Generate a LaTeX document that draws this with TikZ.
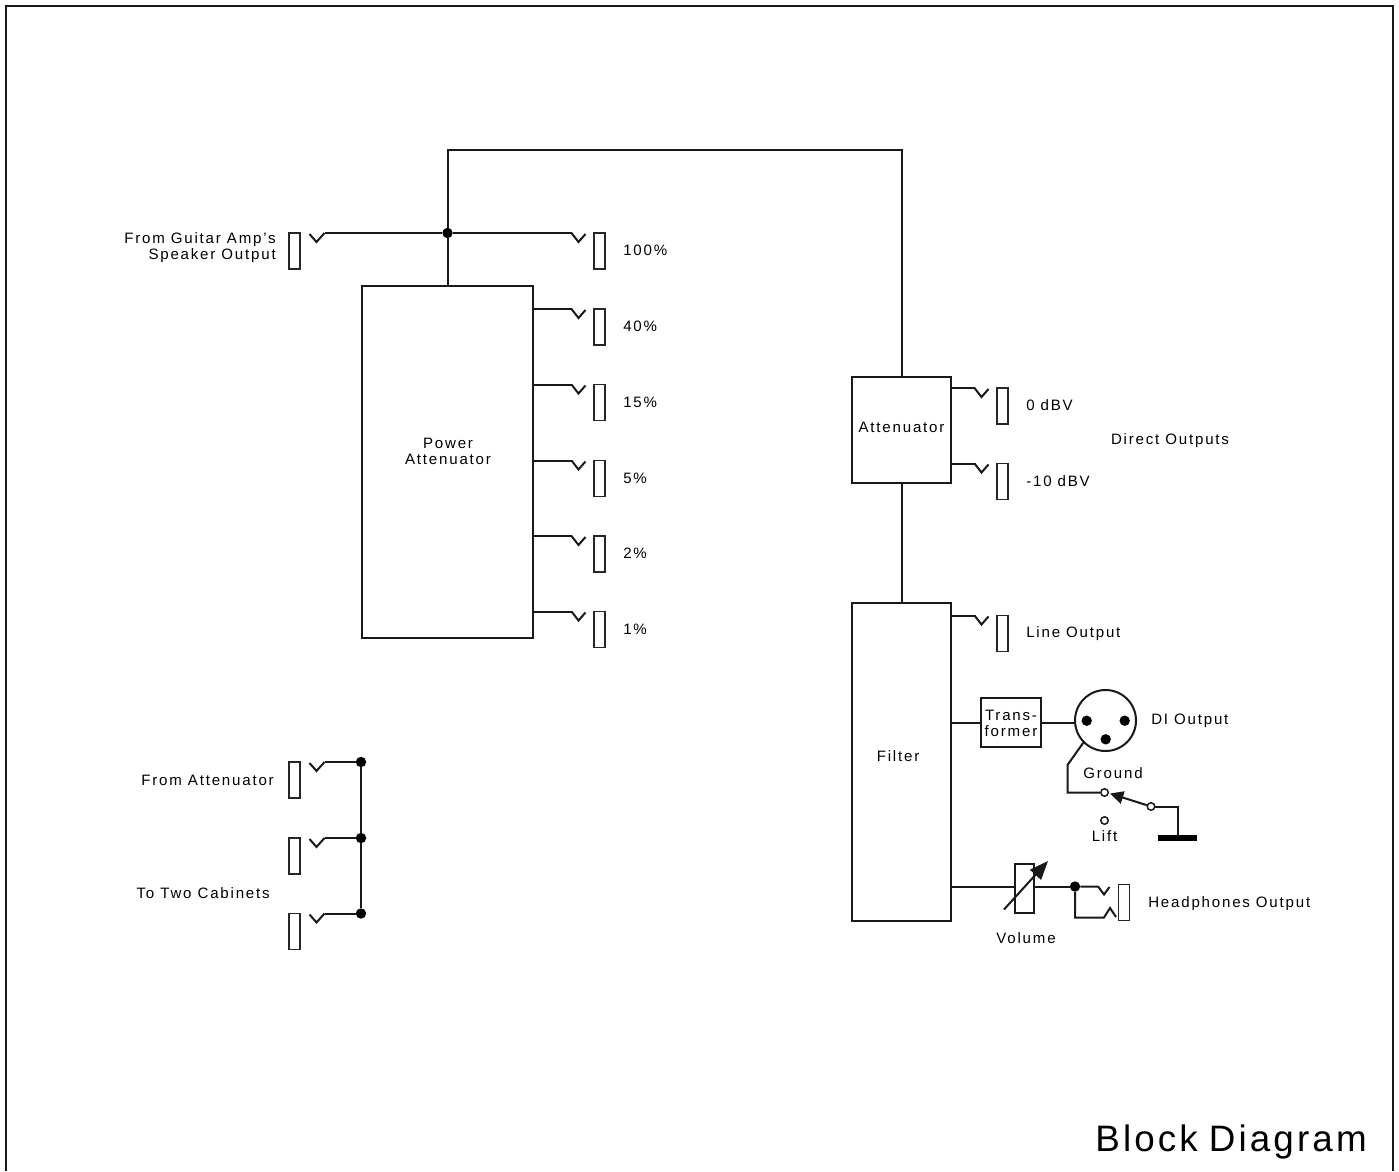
\documentclass[tikz,border=0pt]{standalone}
\usepackage{fontspec}
\setmainfont{Liberation Sans}[LetterSpace=12]
\newfontfamily\titlefont{Liberation Sans}[LetterSpace=8.5]
\usetikzlibrary{arrows.meta}
\tikzset{
  wire/.style={line width=1.5pt,draw=black!90,line join=miter},
  boxn/.style={draw=black!90,line width=1.5pt,fill=none,inner sep=0pt},
  sleeve/.style={draw=black!85,line width=1.4pt,minimum width=8.25pt,minimum height=27pt,inner sep=0pt},
  dotn/.style={circle,fill=black,inner sep=0pt,minimum size=7.8pt},
  termn/.style={circle,draw=black!90,fill=white,line width=1.1pt,inner sep=0pt,minimum size=5.6pt},
  lbl/.style={inner sep=0pt,font=\fontsize{11.3}{12.1}\selectfont,align=center},
  lblr/.style={inner sep=0pt,font=\fontsize{11.3}{12.1}\selectfont,align=right,anchor=east},
  lbll/.style={inner sep=0pt,font=\fontsize{11.3}{12.1}\selectfont,anchor=west},
}
% right-hand jack: name, x of sleeve centre, y of sleeve centre
\newcommand{\outjack}[3]{%
  \node[sleeve] (#1) at (#2,#3) {};
  \coordinate (#1c) at (#2-28,#3-18);
  \draw[wire] (#2-28,#3-18) -- (#2-21,#3-9) -- (#2-14,#3-17);
}
% left-hand jack
\newcommand{\injack}[3]{%
  \node[sleeve] (#1) at (#2,#3) {};
  \coordinate (#1c) at (#2+30,#3-18);
  \draw[wire] (#2+15,#3-17) -- (#2+22,#3-9) -- (#2+30,#3-18);
}
\begin{document}
\begin{tikzpicture}[x=0.75pt,y=-0.75pt]
\useasboundingbox (0,0) rectangle (1399,1171);
\draw[line width=1.5pt,draw=black!90] (6,1171) -- (6,6) -- (1393,6) -- (1393,1171);

% blocks
\node[boxn,minimum width=128.25pt,minimum height=264pt] (pa) at (447.5,461.5) {};
\node[lbl] (pal) at (448,451.5) {Power\\Attenuator};
\node[boxn,minimum width=74.25pt,minimum height=79.5pt] (att) at (901.5,429.5) {};
\node[lbl] (attl) at (901.5,427.5) {Attenuator};
\node[boxn,minimum width=74.25pt,minimum height=238.5pt] (filt) at (901.5,762) {};
\node[lbl] (filtl) at (898,756.5) {Filter};
\node[boxn,minimum width=45pt,minimum height=36.5pt] (trans) at (1011,722.5) {};
\node[lbl] (transl) at (1011,723.5) {Trans-\\former};

% main node and top loop
\node[dotn] (j0) at (447.5,233) {};
\coordinate (topl) at (447.5,150);
\coordinate (topr) at (901.5,150);
\draw[wire] (pa.north -| j0) -- (j0) -- (topl) -- (topr) -- (att.north);
\draw[wire] (att.south) -- (filt.north);

% input jack
\injack{jin}{294.5}{251}
\draw[wire] (jinc) -- (j0);
\node[lblr] (t1) at (276,248) {From Guitar Amp's\\Speaker Output};

% power outputs
\outjack{j100}{599.5}{251}
\draw[wire] (j0) -- (j100c);
\node[lbll] (t100) at (623,250.5) {100\%};
\foreach \n/\y/\t in {a/327/40\%,b/402.5/15\%,c/478.5/5\%,d/554/2\%,e/629.5/1\%}{
  \outjack{j\n}{599.5}{\y}
  \draw[wire] (j\n c -| pa.east) -- (j\n c);
  \node[lbll] (t\n) at (623,\y-0.5) {\t};
}

% direct outputs
\outjack{jf}{1002.5}{406}
\draw[wire] (jfc -| att.east) -- (jfc);
\node[lbll] (tf) at (1026,405) {0 dBV};
\outjack{jg}{1002.5}{481.5}
\draw[wire] (jgc -| att.east) -- (jgc);
\node[lbll] (tg) at (1026,481) {-10 dBV};
\node[lbl] (td) at (1170,440.5) {Direct Outputs};

% line output
\outjack{jl}{1002.5}{633.5}
\draw[wire] (jlc -| filt.east) -- (jlc);
\node[lbll] (tl) at (1026,633.5) {Line Output};

% DI
\draw[wire] (trans.west -| filt.east) -- (trans.west);
\node[circle,draw=black!90,line width=1.5pt,minimum size=45.75pt,inner sep=0pt] (xlr) at (1105.5,720.5) {};
\draw[wire] (trans.east) -- (xlr.west |- trans.east);
\node[dotn] (p1) at (1086.7,720.7) {};
\node[dotn] (p2) at (1124.7,720.7) {};
\node[dotn] (p3) at (1105.7,739.3) {};
\node[lbll] (tdi) at (1151,720.5) {DI Output};
\node[termn] (sw1) at (1104.5,792.5) {};
\node[termn] (sw2) at (1104.5,820.5) {};
\node[termn] (sw3) at (1151,806.5) {};
\coordinate (g1) at (1067.5,765);
\coordinate (g2) at (1177.5,806.5);
\coordinate (g3) at (1177.5,838);
\draw[wire] (xlr.225) -- (g1) -- (g1 |- sw1) -- (sw1);
\draw[wire] (sw3) -- (g2) -- (g3);
\fill[black] (1158,835) rectangle (1197,841);
\coordinate (swtip) at (1110,793.5);
\draw[wire,-{Triangle[length=10pt,width=9.5pt]}] (sw3) -- (swtip);
\node[lbl] (tgr) at (1113,773) {Ground};
\node[lbl] (tlift) at (1104.5,836.5) {Lift};

% volume / headphones
\node[boxn,minimum width=14.2pt,minimum height=37pt] (pot) at (1024.5,888.5) {};
\node[dotn] (j2) at (1075,886.5) {};
\draw[wire] (j2 -| filt.east) -- (j2 -| pot.west);
\draw[wire] (j2 -| pot.east) -- (j2);
\coordinate (arra) at (1004,909.5);
\coordinate (arrb) at (1048,861);
\draw[wire,-{Triangle[length=14pt,width=11pt]}] (arra) -- (arrb);
\node[lbl] (tvol) at (1026,938.5) {Volume};
\node[sleeve] (jh) at (1124,902.5) {};
\coordinate (hp1) at (1098,886.5);
\coordinate (hp2) at (1075,917.5);
\coordinate (hp3) at (1104,917.5);
\draw[wire] (j2) -- (hp1) -- (1104,894.5) -- (1109.5,887);
\draw[wire] (j2) -- (hp2) -- (hp3) -- (1110,908) -- (1116,917);
\node[lbll] (th) at (1148,903.5) {Headphones Output};

% cabinets
\node[dotn] (k1) at (361,762) {};
\node[dotn] (k2) at (361,838) {};
\node[dotn] (k3) at (361,913.5) {};
\draw[wire] (k1) -- (k2) -- (k3);
\injack{ja}{294.5}{780}
\injack{jb}{294.5}{856}
\injack{jc}{294.5}{931.5}
\draw[wire] (jac) -- (k1);
\draw[wire] (jbc) -- (k2);
\draw[wire] (jcc) -- (k3);
\node[lblr] (tfa) at (274,780) {From Attenuator};
\node[lblr] (ttc) at (270,893) {To Two Cabinets};

\node[inner sep=0pt,anchor=base east,font=\titlefont\fontsize{27.6}{30}\selectfont] (title) at (1367,1151.5) {\spaceskip=0.3em Block Diagram};
\end{tikzpicture}
\end{document}
